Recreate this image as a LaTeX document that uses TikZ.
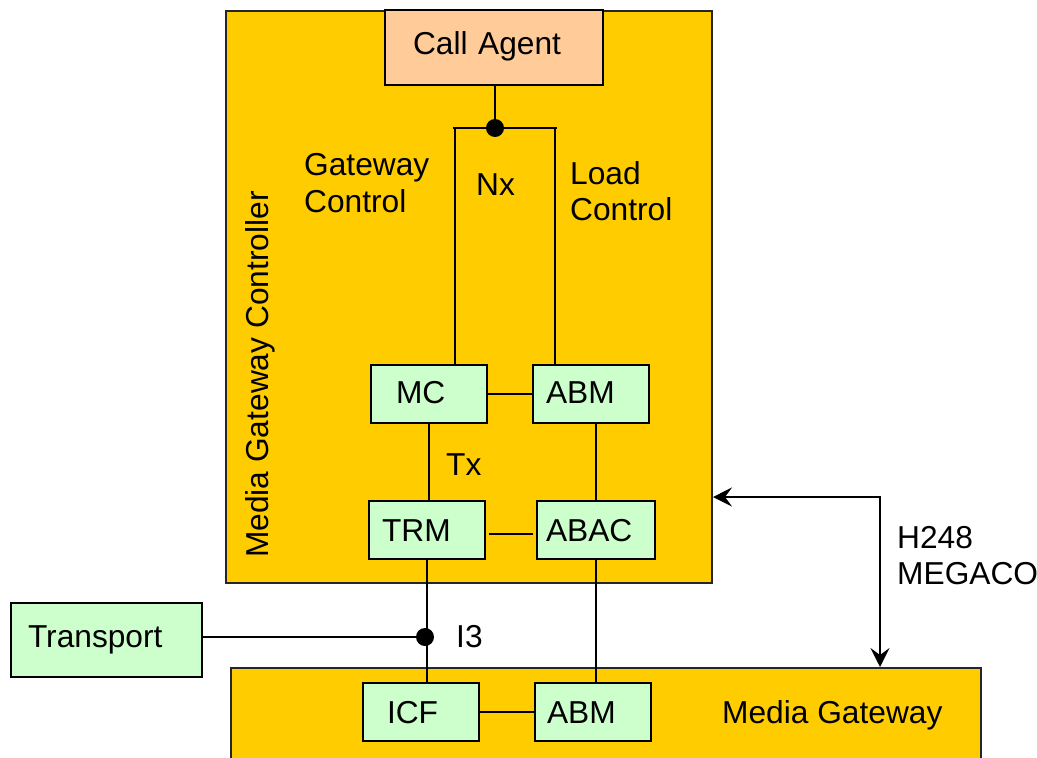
\documentclass[tikz,border=0pt]{standalone}
\usepackage{fontspec}
\setmainfont{Liberation Sans}
\usetikzlibrary{arrows.meta}
\definecolor{gold}{HTML}{FFCC00}
\definecolor{mint}{HTML}{CCFFCC}
\definecolor{peach}{HTML}{FFCC99}
\begin{document}
\begin{tikzpicture}[x=1pt,y=-1pt,
  every node/.style={font=\fontsize{31.7}{36.5}\selectfont},
  frame/.style={draw=black!85, fill=gold, line width=2pt, inner sep=0pt},
  gbox/.style={draw=black, fill=mint, line width=1.6pt, minimum height=58pt, align=left, text height=23pt, inner ysep=0pt},
  lbl/.style={inner sep=0pt, anchor=base west},
  con/.style={line width=1.3pt},
  dot/.style={circle, fill=black, inner sep=0pt, minimum size=18pt},
  arr/.style={line width=1.5pt, {Stealth[length=19pt,width=19pt,inset=7pt]}-{Stealth[length=19pt,width=19pt,inset=7pt]}}
]
\useasboundingbox (0,0) rectangle (1037,758);
\clip (0,0) rectangle (1037,758);
% frames
\node[frame, anchor=north west, minimum width=486pt, minimum height=572pt] (mgc) at (225,10) {};
\node[frame, anchor=north west, minimum width=750pt, minimum height=120pt] (mg) at (230,667) {};
% boxes
\node[gbox, fill=peach, minimum height=75pt, text width=162pt, inner xsep=28pt, text depth=10pt] (ca) at (494,47.5) {Call Agent};
\node[gbox, text width=66pt, inner xsep=25pt, text depth=5pt] (mc) at (429,394) {MC};
\node[gbox, text width=90pt, inner xsep=13pt, text depth=5pt] (abm) at (591,394) {ABM};
\node[gbox, text width=90pt, inner xsep=13pt, text depth=1pt] (trm) at (427,530) {TRM};
\node[gbox, text width=100pt, inner xsep=9pt, text depth=1pt] (abac) at (596,530) {ABAC};
\node[gbox, text width=68pt, inner xsep=24pt, text depth=1pt] (icf) at (421,712) {ICF};
\node[gbox, text width=92pt, inner xsep=12pt, text depth=1pt] (abm2) at (593,712) {ABM};
\node[gbox, minimum height=74pt, text width=157pt, inner xsep=17pt, text depth=9pt] (tr) at (106.5,640) {Transport};
% labels
\node[lbl, rotate=90] (mgct) at (268,558) {Media Gateway Controller};
\node[lbl] (gc1) at (304,175) {Gateway};
\node[lbl] (gc2) at (304,212) {Control};
\node[lbl] (nx) at (476,195) {Nx};
\node[lbl] (lc1) at (570,184) {Load};
\node[lbl] (lc2) at (570,220) {Control};
\node[lbl] (tx) at (446,475) {Tx};
\node[lbl] (ithree) at (456,647) {I3};
\node[lbl] (h1) at (897,548) {H248};
\node[lbl] (h2) at (897,584) {MEGACO};
\node[lbl] (mgt) at (722,723) {Media Gateway};
% Nx junction
\coordinate (nl) at (455,128);
\coordinate (nr) at (555,128);
\draw[con] ([xshift=-2pt]nl) -- ([xshift=2pt]nr);
\draw[con] (ca.south -| 495,0) -- (495,128);
\draw[con] (nl) -- (nl |- mc.north);
\draw[con] (nr) -- (nr |- abm.north);
\node[dot] (jn) at (495,128) {};
% inner connectors
\draw[con] (mc.east) -- (abm.west);
\draw[con, shorten <=3pt, shorten >=3pt] ([yshift=-4pt]trm.east) -- ([yshift=-4pt]trm.east -| abac.west);
\draw[con] (mc.south) -- (mc.south |- trm.north);
\draw[con] (abac.north) -- (abac.north |- abm.south);
\draw[con] (trm.south) -- (trm.south |- icf.north);
\draw[con] (abac.south) -- (abac.south |- abm2.north);
\draw[con] (icf.east) -- (abm2.west);
% I3 junction
\coordinate (i3) at (427,637);
\draw[con] (i3 -| tr.east) -- (i3);
\node[dot] (i3dot) at (425,637) {};
% H248 arrow
\coordinate (h) at (880,497);
\draw[arr] (h -| mgc.east) -- (h) -- (h |- mg.north);
\end{tikzpicture}
\end{document}
